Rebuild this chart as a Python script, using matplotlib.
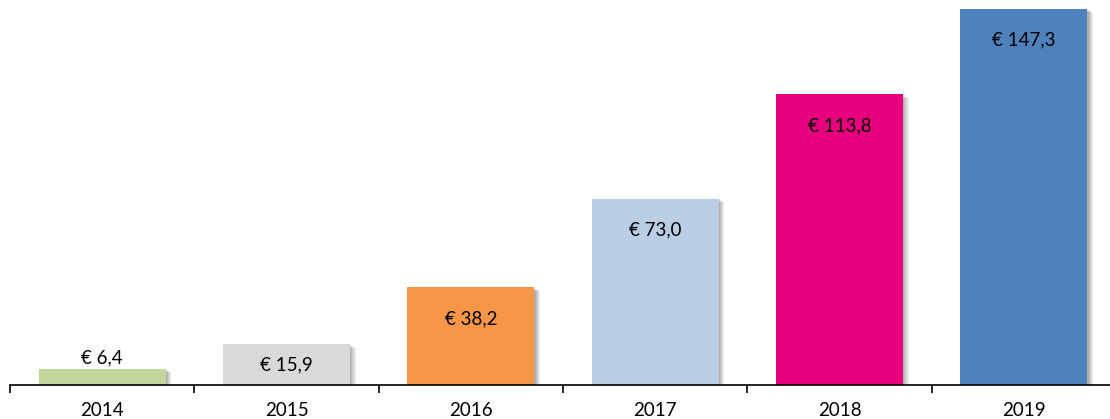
import matplotlib
matplotlib.use("Agg")
import matplotlib.pyplot as plt
import matplotlib.patheffects as pe
import numpy as np

years = ["2014", "2015", "2016", "2017", "2018", "2019"]
values = [6.4, 15.9, 38.2, 73.0, 113.8, 147.3]
labels = ["€ 6,4", "€ 15,9", "€ 38,2", "€ 73,0", "€ 113,8", "€ 147,3"]
colors = ["#C3D69B", "#D9D9D9", "#F79646", "#B9CDE5", "#E6007E", "#4F81BD"]

plt.rcParams['font.family'] = ['Lato', 'DejaVu Sans']

W, H = 1110, 419
fig = plt.figure(figsize=(W / 100, H / 100), dpi=100)
ax = fig.add_axes([10 / W, 34 / H, 1106 / W, (H - 34) / H])

x = np.arange(len(years))
bars = ax.bar(x, values, width=0.69, color=colors, zorder=3)
shadow = []
for k in range(1, 6):
    shadow.append(pe.SimplePatchShadow(offset=(k * 0.8, -k * 0.5), shadow_rgbFace="black", alpha=0.07))
for b in bars:
    b.set_path_effects(shadow + [pe.Normal()])

ax.set_xlim(-0.5, 5.5)
ax.set_ylim(0, 150.8)

px = 0.72  # points per pixel at dpi 100
for i, (v, lab) in enumerate(zip(values, labels)):
    if v < 10:
        ax.annotate(lab, (i, v), xytext=(0, 11 * px), textcoords="offset points",
                    ha="center", va="center", fontsize=13.5, color="black")
    elif v < 25:
        ax.text(i, v / 2, lab, ha="center", va="center", fontsize=13.5, color="black", zorder=5)
    else:
        ax.annotate(lab, (i, v), xytext=(0, -31 * px), textcoords="offset points",
                    ha="center", va="center", fontsize=13.5, color="black", zorder=5)

for s in ["top", "right", "left"]:
    ax.spines[s].set_visible(False)
ax.spines["bottom"].set_linewidth(1.2)
ax.spines["bottom"].set_zorder(4)
ax.set_yticks([])
ax.set_xticks(x)
ax.set_xticklabels(years, fontsize=13.5)
ax.tick_params(axis="x", which="major", length=0, pad=12)
ax.set_xticks(np.arange(-0.5, 6.0, 1.0), minor=True)
ax.tick_params(axis="x", which="minor", length=6, width=1.2, direction="out")

fig.savefig("out.png", dpi=100)
